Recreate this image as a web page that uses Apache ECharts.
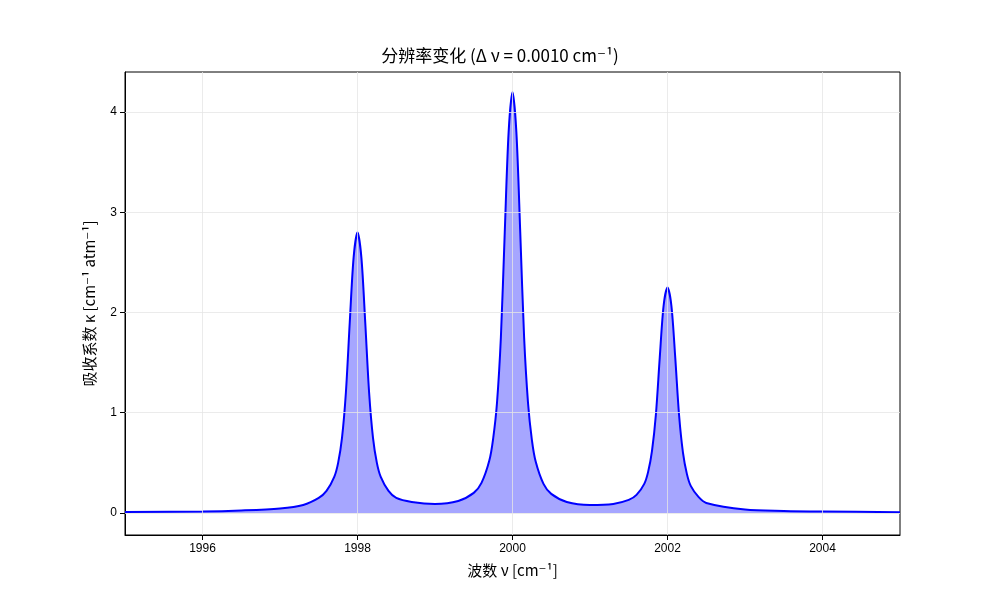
<!DOCTYPE html>
<html><head><meta charset="utf-8">
<script src="https://cdn.jsdelivr.net/npm/echarts@6/dist/echarts.min.js"></script>
<style>html,body{margin:0;background:#fff}#c{width:1000px;height:600px}</style>
</head><body><div id="c"></div>
<script>
const wavenumbers=[1995,1996,1996.5,1997,1997.3,1997.5,1997.6,1997.7,1997.75,1997.8,1997.85,1997.9,1997.95,1998,1998.05,1998.1,1998.15,1998.2,1998.25,1998.3,1998.4,1998.5,1998.7,1999,1999.3,1999.5,1999.6,1999.7,1999.75,1999.8,1999.85,1999.9,1999.95,2000,2000.05,2000.1,2000.15,2000.2,2000.25,2000.3,2000.4,2000.5,2000.7,2001,2001.3,2001.5,2001.6,2001.7,2001.75,2001.8,2001.85,2001.9,2001.95,2002,2002.05,2002.1,2002.15,2002.2,2002.25,2002.3,2002.4,2002.5,2003,2003.5,2004,2005];
const kappa=[0.01,0.015,0.025,0.045,0.08,0.15,0.22,0.36,0.5,0.75,1.2,1.9,2.55,2.8,2.55,1.9,1.2,0.75,0.5,0.36,0.22,0.15,0.11,0.09,0.12,0.2,0.3,0.52,0.74,1.1,1.75,2.8,3.8,4.2,3.8,2.8,1.75,1.1,0.73,0.51,0.29,0.19,0.11,0.08,0.09,0.13,0.18,0.29,0.41,0.62,0.98,1.55,2.07,2.25,2.07,1.55,0.97,0.6,0.39,0.27,0.16,0.1,0.035,0.02,0.014,0.008];
const xTicks=[1996,1998,2000,2002,2004];
const yTicks=[0,1,2,3,4];
const data=wavenumbers.map((x,i)=>[x,kappa[i]]);
const gl={color:'#e6e6e6',width:0.8,type:'solid'};
const font='"Noto Sans CJK SC", "DejaVu Sans", sans-serif';
const chart=echarts.init(document.getElementById('c'));
chart.setOption({
  animation:false,
  title:{text:'分辨率变化 (Δ ν = 0.0010 cm⁻¹)',left:'center',top:42,textStyle:{fontSize:17,fontWeight:'normal',color:'#000',fontFamily:font}},
  grid:{left:125,right:100,top:72,bottom:65,show:true,borderColor:'#000',borderWidth:1},
  xAxis:{type:'value',min:1995,max:2005,
    name:'波数 ν [cm⁻¹]',nameLocation:'middle',nameGap:28,nameTextStyle:{fontSize:15,color:'#000',fontFamily:font},
    axisLine:{onZero:false,lineStyle:{color:'#000'}},
    axisTick:{customValues:xTicks,lineStyle:{color:'#000'}},
    axisLabel:{customValues:xTicks,color:'#000',fontSize:12,formatter:v=>String(v)},
    splitLine:{show:false}},
  yAxis:{type:'value',min:-0.22,max:4.4,
    name:'吸收系数 κ [cm⁻¹ atm⁻¹]',nameLocation:'middle',nameGap:28,nameTextStyle:{fontSize:15,color:'#000',fontFamily:font},
    axisLine:{show:true,lineStyle:{color:'#000'}},
    axisTick:{show:true,customValues:yTicks,lineStyle:{color:'#000'}},
    axisLabel:{customValues:yTicks,color:'#000',fontSize:12,formatter:v=>String(v)},
    splitLine:{show:false}},
  series:[{type:'line',data:data,smooth:0.3,showSymbol:false,
    lineStyle:{color:'#0000ff',width:2},
    areaStyle:{color:'#8080ff',origin:0},
    markLine:{silent:true,symbol:'none',label:{show:false},lineStyle:gl,
      data:[...xTicks.map(v=>({xAxis:v})),...yTicks.map(v=>({yAxis:v}))]}}]
});
</script></body></html>
